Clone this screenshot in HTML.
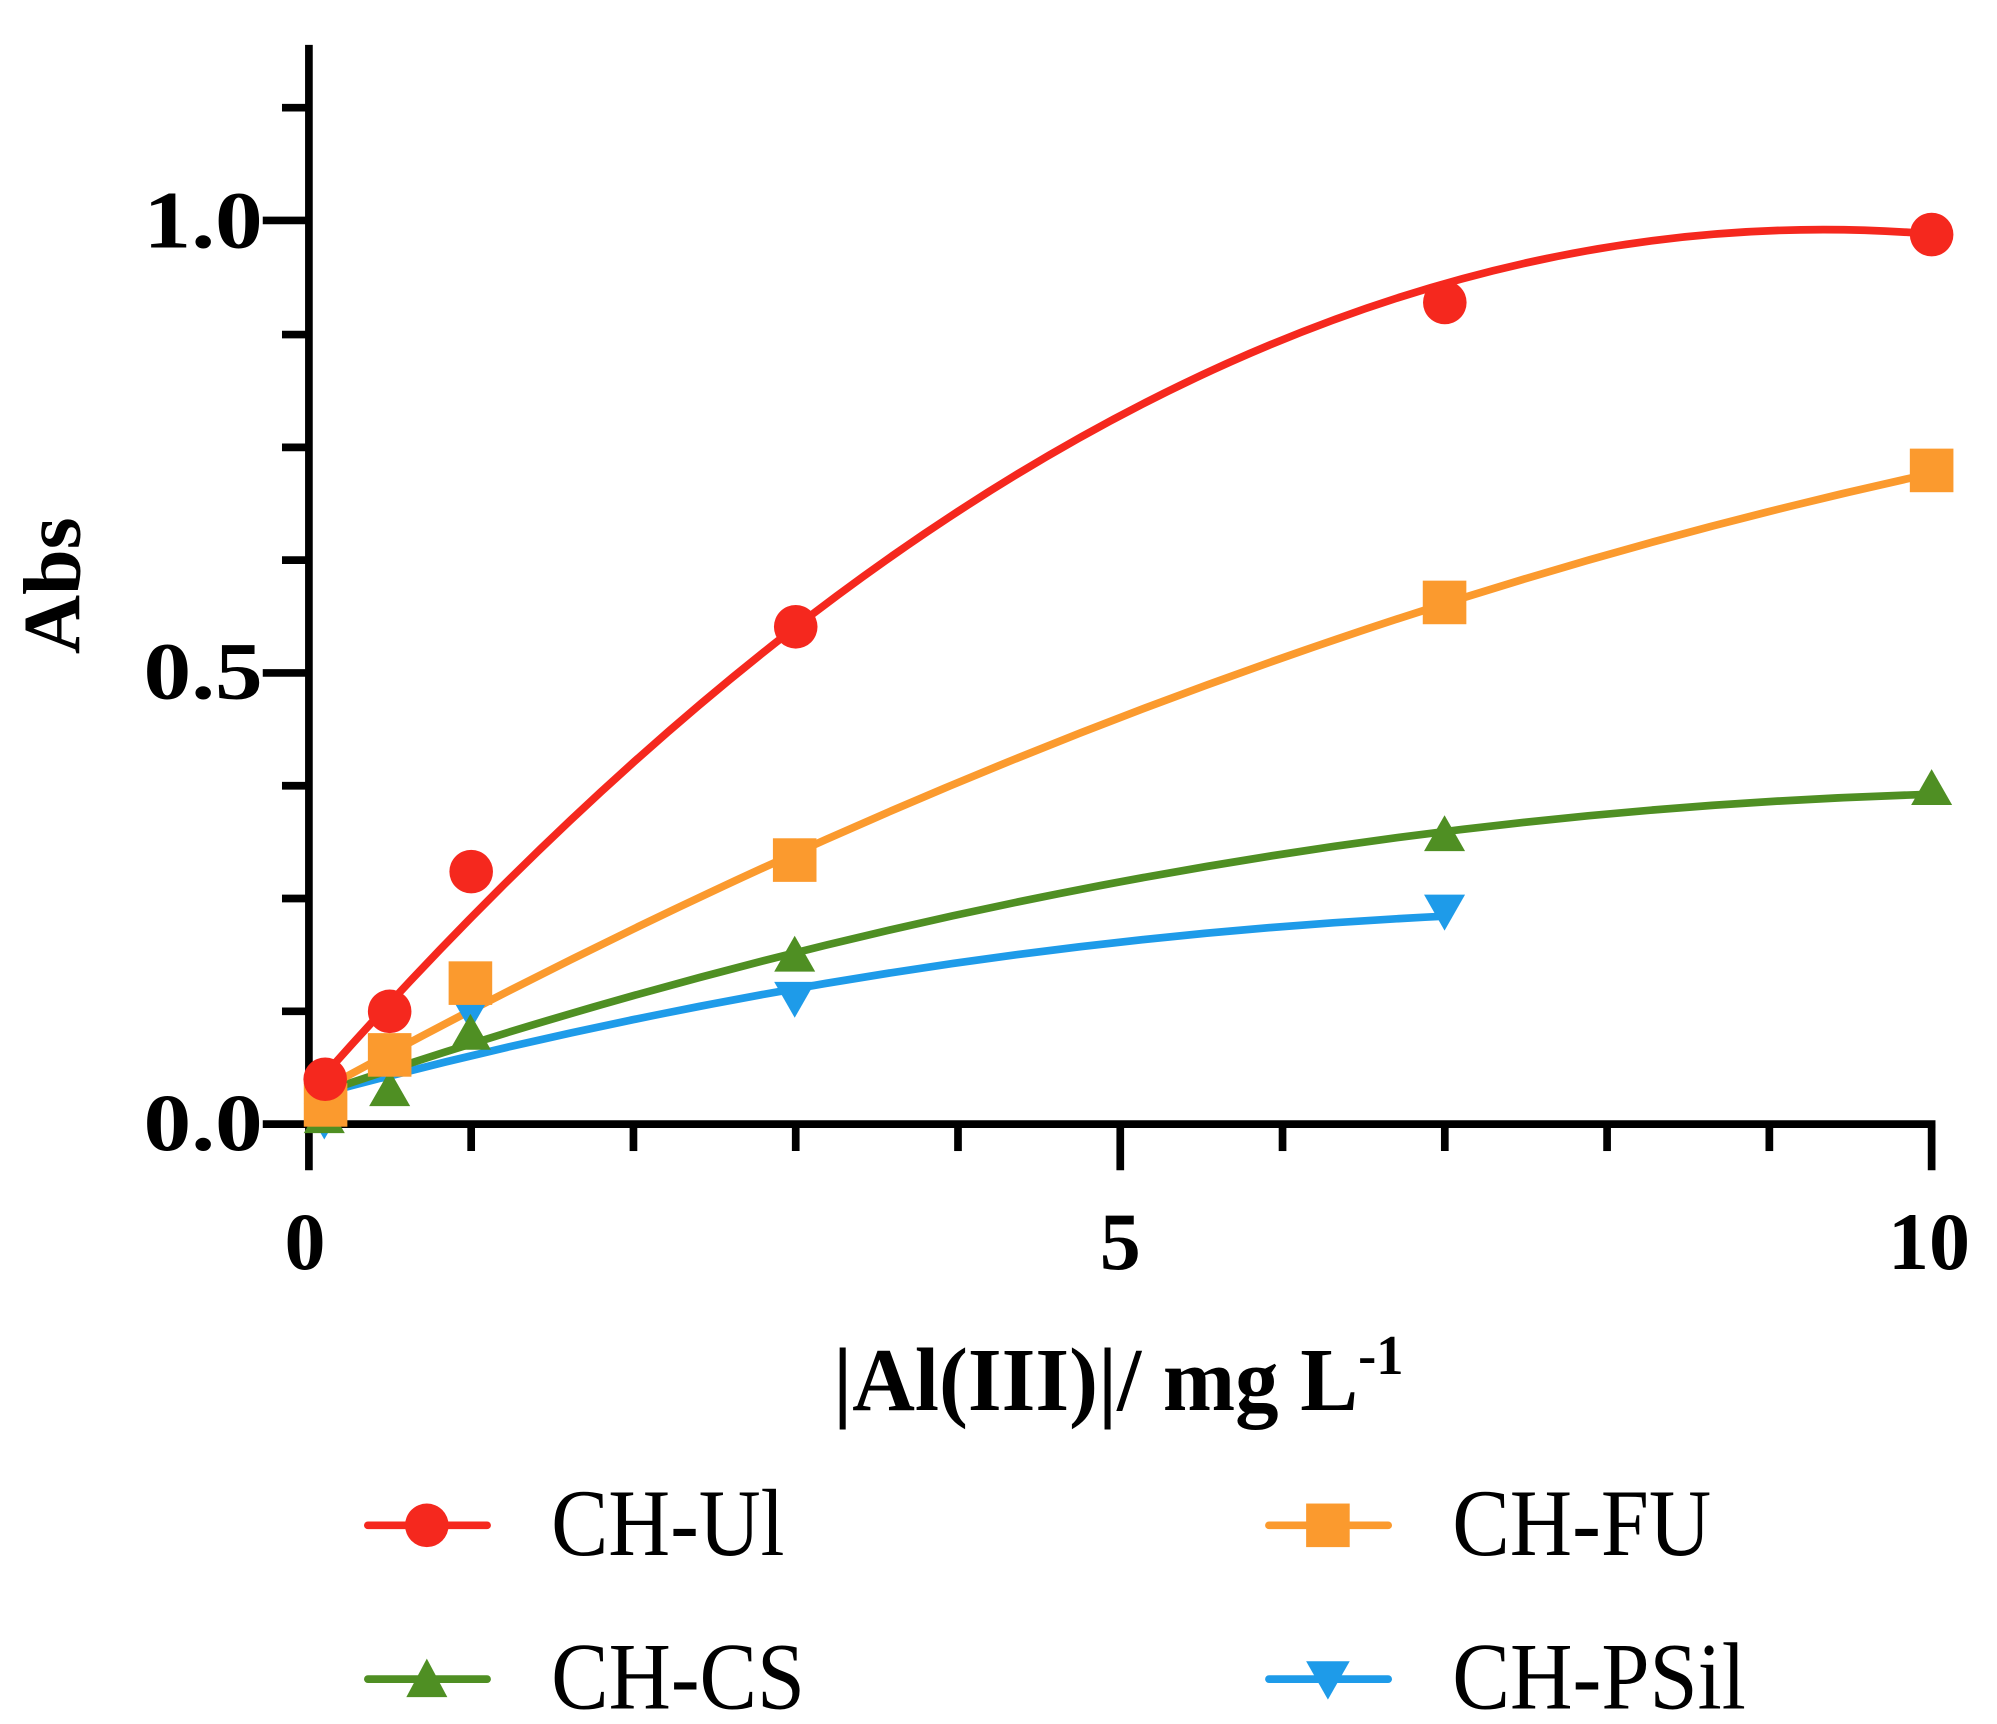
<!DOCTYPE html>
<html><head><meta charset="utf-8"><style>
html,body{margin:0;padding:0;background:#fff;}
svg{display:block;}
text{font-family:"Liberation Serif",serif;fill:#000;}
</style></head><body>
<svg width="1997" height="1724" viewBox="0 0 1558 1345" preserveAspectRatio="none" xmlns="http://www.w3.org/2000/svg">
<g stroke="#000" stroke-width="6" fill="none">
<line x1="241" y1="35" x2="241" y2="913"/>
<line x1="205" y1="877" x2="1510" y2="877"/>
<line x1="220" y1="789" x2="241" y2="789"/>
<line x1="220" y1="701" x2="241" y2="701"/>
<line x1="220" y1="613" x2="241" y2="613"/>
<line x1="205" y1="525" x2="241" y2="525"/>
<line x1="220" y1="437" x2="241" y2="437"/>
<line x1="220" y1="349" x2="241" y2="349"/>
<line x1="220" y1="261" x2="241" y2="261"/>
<line x1="205" y1="172" x2="241" y2="172"/>
<line x1="220" y1="84" x2="241" y2="84"/>
<line x1="367.6" y1="877" x2="367.6" y2="898"/>
<line x1="494.2" y1="877" x2="494.2" y2="898"/>
<line x1="620.8" y1="877" x2="620.8" y2="898"/>
<line x1="747.4" y1="877" x2="747.4" y2="898"/>
<line x1="874" y1="877" x2="874" y2="913"/>
<line x1="1000.6" y1="877" x2="1000.6" y2="898"/>
<line x1="1127.2" y1="877" x2="1127.2" y2="898"/>
<line x1="1253.8" y1="877" x2="1253.8" y2="898"/>
<line x1="1380.4" y1="877" x2="1380.4" y2="898"/>
<line x1="1507" y1="877" x2="1507" y2="913"/>
</g>
<g font-weight="bold" font-size="64">
<text x="112" y="897" textLength="93" lengthAdjust="spacingAndGlyphs">0.0</text>
<text x="112" y="545" textLength="93" lengthAdjust="spacingAndGlyphs">0.5</text>
<text x="112" y="193" textLength="93" lengthAdjust="spacingAndGlyphs">1.0</text>
</g>
<g font-weight="bold" font-size="64" text-anchor="middle">
<text x="238" y="990">0</text>
<text x="874" y="990">5</text>
<text x="1505" y="990">10</text>
</g>
<text x="650" y="1100" font-weight="bold" font-size="70" textLength="445" lengthAdjust="spacingAndGlyphs">|Al(III)|/ mg L<tspan font-size="44" dy="-28">-1</tspan></text>
<text transform="translate(62,457) rotate(-90)" font-weight="bold" font-size="64" text-anchor="middle">Abs</text>

<g fill="none" stroke-width="6" stroke-linecap="round">
<path d="M253.7,852.5 Q690.4,735.7 1127.2,714.8" stroke="#1e9be9"/>
<path d="M253.7,851.5 Q880.3,638 1507,619.7" stroke="#4f8f23"/>
<path d="M253.7,848.9 Q880.3,505.5 1507,369.4" stroke="#fb9a2e"/>
<path d="M253.7,838 Q880.3,131.6 1507,182.6" stroke="#f5281e"/>
</g>
<g fill="#1e9be9">
<polygon points="237,861 269,861 253,889"/>
<polygon points="351,776 383,776 367,804"/>
<polygon points="604,766 636,766 620,794"/>
<polygon points="1111,698 1143,698 1127,726"/>
</g>
<g fill="#4f8f23">
<polygon points="253,856 269,884 237,884"/>
<polygon points="304,835 320,863 288,863"/>
<polygon points="367,791 383,819 351,819"/>
<polygon points="620,730 636,758 604,758"/>
<polygon points="1127,636 1143,664 1111,664"/>
<polygon points="1507,600 1523,628 1491,628"/>
</g>
<g fill="#fb9a2e">
<rect x="237" y="845" width="34" height="34"/>
<rect x="287" y="806" width="34" height="34"/>
<rect x="350" y="750" width="34" height="34"/>
<rect x="603" y="654" width="34" height="34"/>
<rect x="1110" y="453" width="34" height="34"/>
<rect x="1490" y="350" width="34" height="34"/>
</g>
<g fill="#f5281e">
<circle cx="253.7" cy="842" r="17"/>
<circle cx="304" cy="789" r="17"/>
<circle cx="367.6" cy="680" r="17"/>
<circle cx="620.8" cy="489" r="17"/>
<circle cx="1127.2" cy="236" r="17"/>
<circle cx="1507" cy="183" r="17"/>
</g>

<g stroke-width="6" stroke-linecap="round">
<line x1="287" y1="1190" x2="380" y2="1190" stroke="#f5281e"/>
<line x1="990" y1="1190" x2="1083" y2="1190" stroke="#fb9a2e"/>
<line x1="287" y1="1310" x2="380" y2="1310" stroke="#4f8f23"/>
<line x1="990" y1="1310" x2="1083" y2="1310" stroke="#1e9be9"/>
</g>
<circle cx="333" cy="1190" r="17" fill="#f5281e"/>
<rect x="1019" y="1173" width="34" height="34" fill="#fb9a2e"/>
<polygon points="333,1294 349,1324 317,1324" fill="#4f8f23"/>
<polygon points="1019,1296 1053,1296 1036,1326" fill="#1e9be9"/>
<g font-size="74">
<text x="430" y="1213" textLength="182" lengthAdjust="spacingAndGlyphs">CH-Ul</text>
<text x="1133" y="1213" textLength="202" lengthAdjust="spacingAndGlyphs">CH-FU</text>
<text x="430" y="1333" textLength="198" lengthAdjust="spacingAndGlyphs">CH-CS</text>
<text x="1133" y="1333" textLength="229" lengthAdjust="spacingAndGlyphs">CH-PSil</text>
</g>
</svg>
</body></html>
